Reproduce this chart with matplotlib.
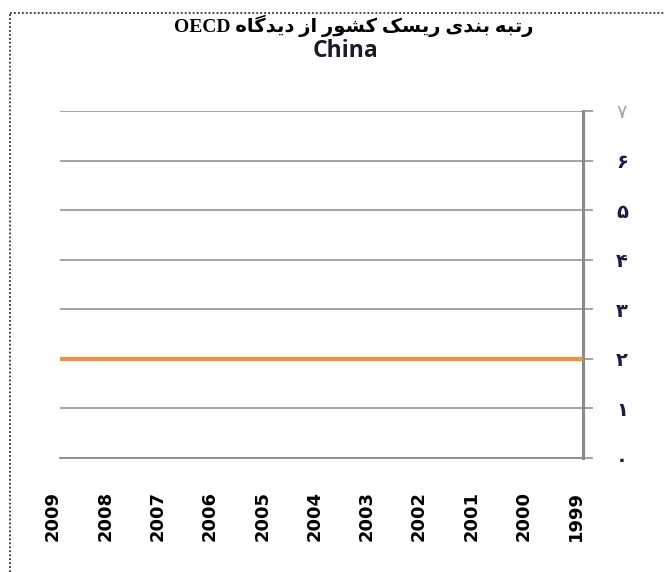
import matplotlib
matplotlib.use("Agg")
import matplotlib.pyplot as plt
from matplotlib.lines import Line2D
from matplotlib.transforms import ScaledTranslation

# data
years = ["2009", "2008", "2007", "2006", "2005", "2004", "2003", "2002", "2001", "2000", "1999"]
rating = [2, 2, 2, 2, 2, 2, 2, 2, 2, 2, 2]
y_ticks = [0, 1, 2, 3, 4, 5, 6, 7]
y_labels = ["۰", "۱", "۲", "۳", "۴", "۵", "۶", "۷"]
title_fa = "رتبه بندی ریسک کشور از دیدگاه"
title_en = "OECD"
subtitle = "China"

# minimal Persian shaping (iso, final, initial, medial)
FORMS = {
    "ا": ("\uFE8D", "\uFE8E", None, None),
    "ب": ("\uFE8F", "\uFE90", "\uFE91", "\uFE92"),
    "ت": ("\uFE95", "\uFE96", "\uFE97", "\uFE98"),
    "د": ("\uFEA9", "\uFEAA", None, None),
    "ر": ("\uFEAD", "\uFEAE", None, None),
    "ز": ("\uFEAF", "\uFEB0", None, None),
    "س": ("\uFEB1", "\uFEB2", "\uFEB3", "\uFEB4"),
    "ش": ("\uFEB5", "\uFEB6", "\uFEB7", "\uFEB8"),
    "ن": ("\uFEE5", "\uFEE6", "\uFEE7", "\uFEE8"),
    "ه": ("\uFEE9", "\uFEEA", "\uFEEB", "\uFEEC"),
    "و": ("\uFEED", "\uFEEE", None, None),
    "ی": ("\uFBFC", "\uFBFD", "\uFBFE", "\uFBFF"),
    "ک": ("\uFB8E", "\uFB8F", "\uFB90", "\uFB91"),
    "گ": ("\uFB92", "\uFB93", "\uFB94", "\uFB95"),
}


def shape(s):
    out = []
    for i, c in enumerate(s):
        if c not in FORMS:
            out.append(c)
            continue
        prev = s[i - 1] if i > 0 else ""
        nxt = s[i + 1] if i + 1 < len(s) else ""
        jp = prev in FORMS and FORMS[prev][2] is not None
        jn = FORMS[c][2] is not None and nxt in FORMS
        f = FORMS[c]
        if jp and jn:
            out.append(f[3])
        elif jp:
            out.append(f[1])
        elif jn:
            out.append(f[2])
        else:
            out.append(f[0])
    return "".join(out)[::-1]


W, H = 665, 572
fig = plt.figure(figsize=(W / 100, H / 100), dpi=100)
ax = fig.add_axes([60 / W, (H - 458) / H, (583 - 60) / W, (458 - 111) / H])

x = list(range(len(years)))
ax.plot(x, rating, color="#f5913e", lw=3, solid_capstyle="butt", zorder=3)

grid_c = "#8a8a8a"
ax.set_xlim(0, len(years) - 1)
ax.set_ylim(0, 7)
ax.yaxis.tick_right()
ax.set_yticks(y_ticks)
ax.set_yticklabels(y_labels, family=["DejaVu Sans"], fontsize=14, fontweight="bold",
                   color="#1c1c4c", ha="center")
ax.get_yticklabels()[-1].set_color("#9aa0b8")
ax.get_yticklabels()[-1].set_fontweight("normal")
ax.tick_params(axis="y", length=7, width=1.1, color=grid_c, pad=21)
ax.grid(axis="y", color=grid_c, lw=1.1)
ax.set_axisbelow(True)

ax.set_xticks(x)
ax.set_xticklabels(years, rotation=90, fontsize=13, fontweight="bold", va="top", ha="center")
ax.tick_params(axis="x", length=0, pad=24)
for lab in ax.get_xticklabels():
    lab.set_transform(lab.get_transform() + ScaledTranslation(-7 / 100, 0, fig.dpi_scale_trans))

for s in ["top", "left"]:
    ax.spines[s].set_visible(False)
ax.spines["right"].set_color(grid_c)
ax.spines["right"].set_linewidth(2.2)
ax.spines["bottom"].set_color(grid_c)
ax.spines["bottom"].set_linewidth(1.3)

fig.text(354 / W, 1 - 26 / H, title_en + " " + shape(title_fa), ha="center", va="center",
         family=["Liberation Serif", "DejaVu Sans"], fontweight="bold", fontsize=14)
fig.text(345 / W, 1 - 51 / H, subtitle, ha="center", va="center",
         family=["Open Sans", "DejaVu Sans"], fontweight="bold", fontsize=16.5, color="#1a1a2a")

# dotted frame
fig.add_artist(Line2D([10 / W, 1], [1 - 13 / H, 1 - 13 / H], transform=fig.transFigure,
                      color="#333333", lw=1.3, ls=(0, (1, 1.2))))
fig.add_artist(Line2D([10 / W, 10 / W], [0, 1 - 13 / H], transform=fig.transFigure,
                      color="#333333", lw=1.3, ls=(0, (1, 1.2))))

fig.savefig("out.png", dpi=100)
